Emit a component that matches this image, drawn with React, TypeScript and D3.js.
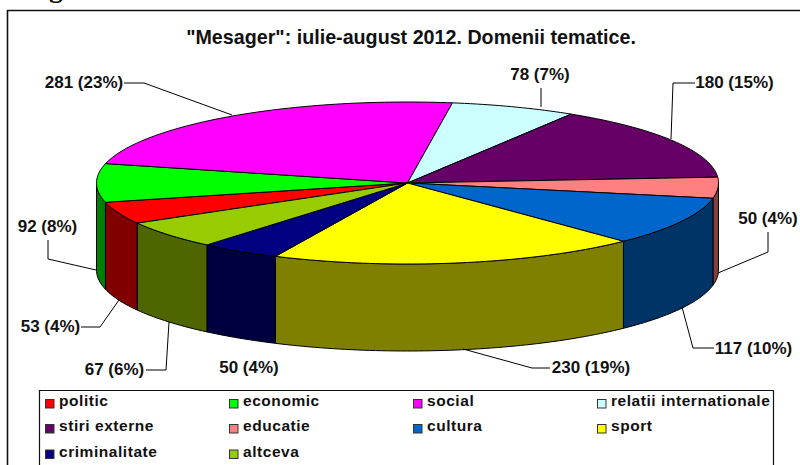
import React from "react";
import * as d3 from "d3";

const categories = ["politic","economic","social","relatii internationale","stiri externe","educatie","cultura","sport","criminalitate","altceva"];
const counts = [53,92,281,78,180,50,117,230,50,67];
const percents = [4,8,23,7,15,4,10,19,4,6];
const topColors = ["#FF0000","#00FF00","#FF00FF","#CCFFFF","#660066","#FF8080","#0066CC","#FFFF00","#000080","#99CC00"];
const sideColors = ["#800000","#008000","#800080","#668080","#330033","#804040","#003366","#808000","#000040","#4D6600"];
const labelPos: [number, number][] = [[50.5,332],[47.5,232],[84,88],[540,80],[734.5,88],[768,224],[753.5,354],[591,373],[249,373],[114.5,375]];
const leaders: [number, number][][] = [
  [[81,327],[100,327],[119,300]],
  [[48,240],[48,259],[96,270]],
  [[124,83],[144,83],[232,115]],
  [[541,88],[541,107]],
  [[695,83],[673,83],[671,139]],
  [[768,232],[768,252],[718,273]],
  [[714,348],[693,348],[682,307]],
  [[550,368],[532,368],[463,349]],
  [],
  [[146,370],[166,370],[169,322]],
];

const cx = 407.5, cy = 183, rx = 311, ry = 81, depth = 87;
const startAngle = (240.3 * Math.PI) / 180;
const arcs = d3.pie<number>().sort(null).startAngle(startAngle).endAngle(startAngle + 2 * Math.PI)(counts);

const px = (a: number) => cx + rx * Math.sin(a);
const py = (a: number, d = 0) => cy - ry * Math.cos(a) + d;
const line = d3.line<[number, number]>();
const sample = (a0: number, a1: number) => {
  const n = Math.max(2, Math.ceil(Math.abs(a1 - a0) / 0.02));
  return d3.range(n + 1).map((i) => a0 + ((a1 - a0) * i) / n);
};

function topPath(a0: number, a1: number) {
  const pts = sample(a0, a1).map((a) => [px(a), py(a)] as [number, number]);
  return line([[cx, cy], ...pts]) + "Z";
}

function wallPath(a0: number, a1: number) {
  const two = 2 * Math.PI;
  const lo = Math.PI / 2, hi = (3 * Math.PI) / 2;
  const norm = a0 >= two ? -two : 0;
  const s = Math.max(a0 + norm, lo), e = Math.min(a1 + norm, hi);
  if (e <= s) return null;
  const top = sample(s, e).map((a) => [px(a), py(a)] as [number, number]);
  const bot = sample(e, s).map((a) => [px(a), py(a, depth)] as [number, number]);
  return line([...top, ...bot]) + "Z";
}

const legendX = [46, 230, 414, 598];
const legendY = [402, 427, 452.5];

export default function App() {
  const ink = "#111";
  return (
    <svg width={800} height={465} style={{ position: "absolute", left: 0, top: 0, background: "#fff" }}
      fontFamily="'Liberation Sans', Arial, sans-serif" fontWeight="bold" fill={ink}>
      <text x={49} y={-3} fontFamily="'Liberation Serif', serif" fontSize={28}>g</text>
      <path d="M7.5 465V10.5H800" fill="none" stroke={ink} strokeWidth={1.6} />
      <text x={411} y={43.5} textAnchor="middle" fontSize={19.7}>"Mesager": iulie-august 2012. Domenii tematice.</text>

      {arcs.map((a, i) => {
        const d = wallPath(a.startAngle, a.endAngle);
        return d ? <path key={i} d={d} fill={sideColors[i]} stroke="#000" strokeWidth={1} strokeLinejoin="round" /> : null;
      })}
      {arcs.map((a, i) => (
        <path key={i} d={topPath(a.startAngle, a.endAngle)} fill={topColors[i]} stroke="#000" strokeWidth={1} strokeLinejoin="round" />
      ))}

      {leaders.map((l, i) => l.length ? <path key={i} d={line(l)!} fill="none" stroke="#000" strokeWidth={1} /> : null)}
      {counts.map((c, i) => (
        <text key={i} x={labelPos[i][0]} y={labelPos[i][1]} textAnchor="middle" fontSize={17}>{`${c} (${percents[i]}%)`}</text>
      ))}

      <path d="M39.5 465V390.5H773.5V465" fill="#fff" stroke={ink} strokeWidth={1.2} />
      {categories.map((c, i) => {
        const col = i % 4, row = Math.floor(i / 4);
        return (
          <g key={c}>
            <rect x={legendX[col] - 0.5} y={legendY[row] - 2.5} width={8.5} height={8.5} fill={topColors[i]} stroke="#333" strokeWidth={1} />
            <text x={legendX[col] + 13} y={legendY[row] + 4} fontSize={15.5} letterSpacing={0.55}>{c}</text>
          </g>
        );
      })}
    </svg>
  );
}
